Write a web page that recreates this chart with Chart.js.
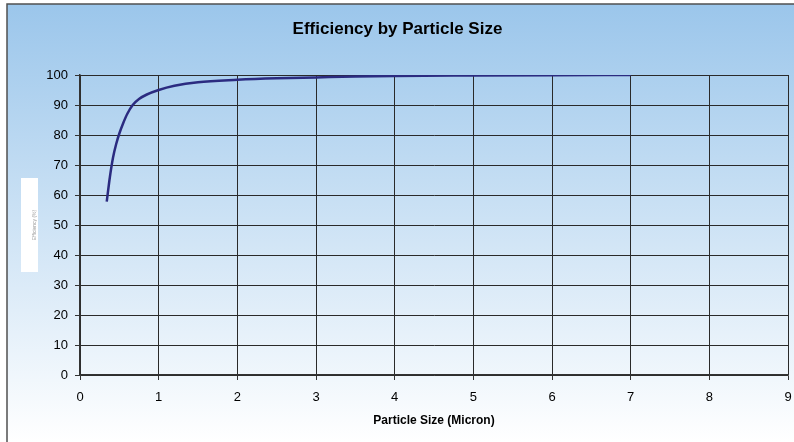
<!DOCTYPE html>
<html>
<head>
<meta charset="utf-8">
<script src="https://cdn.jsdelivr.net/npm/chart.js@4"></script>
<style>
  html, body { margin: 0; padding: 0; background: #fff; }
  #wrap { width: 794px; height: 442px; }
</style>
</head>
<body>
<div id="wrap"><canvas id="chart" width="794" height="442"></canvas></div>
<script>
// values
const particleSize = [0.34, 0.38, 0.42, 0.46, 0.5, 0.55, 0.6, 0.67, 0.75, 0.85, 1.0, 1.2, 1.5, 2.0, 2.5, 3.0, 3.5, 4.0, 5.0, 6.0, 7.0]
const efficiency = [57.8, 66, 72.5, 77, 80.5, 84, 87, 90, 92, 93.5, 95, 96.4, 97.6, 98.4, 98.9, 99.2, 99.5, 99.7, 99.85, 99.95, 100]
const xTicks = [0, 1, 2, 3, 4, 5, 6, 7, 8, 9]
const yTicks = [0, 10, 20, 30, 40, 50, 60, 70, 80, 90, 100]

const chartTitle = 'Efficiency by Particle Size'
const xTitle = 'Particle Size (Micron)'
const yTitle = 'Efficiency (%)'

// background gradient, frame and the small white y-label box
const backdrop = {
  id: 'backdrop',
  beforeDraw(chart) {
    const ctx = chart.ctx
    const w = chart.width, h = chart.height
    ctx.save()
    ctx.fillStyle = '#fff'
    ctx.fillRect(0, 0, w, h)
    const g = ctx.createLinearGradient(0, 4, 0, h)
    g.addColorStop(0, '#9bc6eb')
    g.addColorStop(1, '#ffffff')
    ctx.fillStyle = g
    ctx.fillRect(7, 4, w - 7, h - 4)
    ctx.strokeStyle = '#505050'
    ctx.lineWidth = 1.5
    ctx.beginPath()
    ctx.moveTo(7, h)
    ctx.lineTo(7, 4)
    ctx.lineTo(w, 4)
    ctx.stroke()
    ctx.restore()
  },
  afterDraw(chart) {
    const ctx = chart.ctx
    ctx.save()
    ctx.fillStyle = '#fff'
    ctx.fillRect(21, 178, 17, 94)
    ctx.translate(35, 225)
    ctx.rotate(-Math.PI / 2)
    ctx.fillStyle = '#999'
    ctx.font = '5px "Liberation Sans"'
    ctx.textAlign = 'center'
    ctx.textBaseline = 'middle'
    ctx.fillText(yTitle, 0, 0)
    ctx.restore()
  }
}

const ctx = document.getElementById('chart').getContext('2d')
const chart = new Chart(ctx, {
  type: 'line',
  data: {
    datasets: [{
      data: particleSize.map((x, i) => ({ x: x, y: efficiency[i] })),
      borderColor: '#2b2b80',
      borderWidth: 2.5,
      pointRadius: 0,
      fill: false,
      cubicInterpolationMode: 'monotone',
    }],
  },
  options: {
    responsive: false,
    animation: false,
    layout: { padding: { left: 7, right: 6, top: 0, bottom: 0 } },
    plugins: {
      legend: { display: false },
      tooltip: { enabled: false },
      title: {
        display: true,
        text: chartTitle,
        color: '#000',
        font: { family: '"Liberation Sans", Arial', size: 17, weight: 'bold' },
        padding: { top: 19, bottom: 35.6 },
      },
    },
    scales: {
      x: {
        type: 'linear',
        min: 0,
        max: 9,
        afterBuildTicks: scale => { scale.ticks = xTicks.map(v => ({ value: v })) },
        afterFit: scale => {
          scale.height = 67
          scale.paddingLeft = 0
          scale.paddingRight = 0
        },
        ticks: {
          color: '#000',
          padding: 10,
          maxRotation: 0,
          font: { family: '"Liberation Sans", Arial', size: 13 },
        },
        grid: { color: '#2a2a2a', lineWidth: 1, tickLength: 5, tickColor: '#333' },
        border: { color: '#333', width: 1.5 },
        title: {
          display: true,
          text: xTitle,
          color: '#000',
          font: { family: '"Liberation Sans", Arial', size: 12, weight: 'bold' },
          padding: { top: 0, bottom: 14 },
        },
      },
      y: {
        type: 'linear',
        min: 0,
        max: 100,
        afterBuildTicks: scale => { scale.ticks = yTicks.map(v => ({ value: v })) },
        afterFit: scale => { scale.width = 73 },
        ticks: {
          color: '#000',
          padding: 7,
          font: { family: '"Liberation Sans", Arial', size: 13 },
        },
        grid: { color: '#2a2a2a', lineWidth: 1, tickLength: 5, tickColor: '#333' },
        border: { color: '#333', width: 1.5 },
      },
    },
  },
  plugins: [backdrop],
})
</script>
</body>
</html>
